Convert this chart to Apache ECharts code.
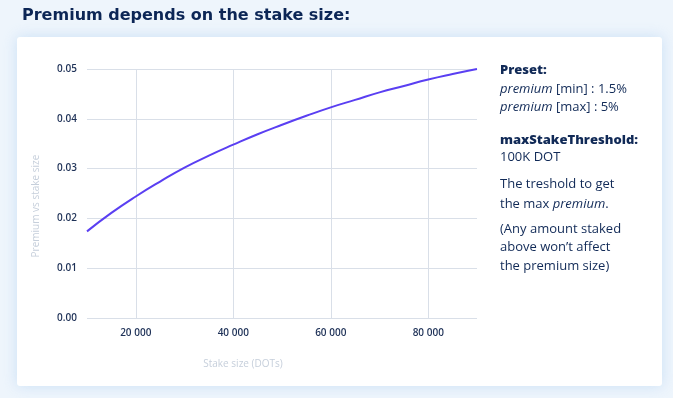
<!DOCTYPE html>
<html>
<head>
<meta charset="utf-8">
<script src="https://cdn.jsdelivr.net/npm/echarts@6/dist/echarts.min.js"></script>
<style>
  html, body { margin: 0; padding: 0; background: #eef5fc; }
  #chart { width: 673px; height: 398px; }
</style>
</head>
<body>
<div id="chart"></div>
<script>
// stake size (DOTs) and premium
var stakeSize = [10000, 15000, 20000, 25000, 30000, 35000, 40000, 45000, 50000,
  55000, 60000, 65000, 70000, 75000, 80000, 85000, 90000];
var premium = [0.0174, 0.0211, 0.0244, 0.0274, 0.0302, 0.0326, 0.0348, 0.0369, 0.0388,
  0.0406, 0.0423, 0.0438, 0.0453, 0.0466, 0.0479, 0.049, 0.05];
var xTicks = [20000, 40000, 60000, 80000];

var navy = "#112a57";
var font = "Open Sans";

var chartDom = document.getElementById("chart");
var myChart = echarts.init(chartDom);

function line(y, parts) {
  return {
    type: "text",
    left: 500,
    top: y,
    z: 10,
    style: {
      text: parts,
      fill: navy,
      font: "13px " + font,
      rich: {
        b: { fontWeight: 800, fontSize: 13, fontFamily: font, fill: navy },
        i: { fontStyle: "italic", fontSize: 13, fontFamily: font, fill: navy },
        n: { fontSize: 13, fontFamily: font, fill: navy },
      },
    },
  };
}

var option = {
  backgroundColor: "#eef5fc",
  title: {
    text: "Premium depends on the stake size:",
    left: 17,
    top: 3,
    textStyle: {
      color: "#0c2656",
      fontFamily: "DejaVu Sans",
      fontWeight: 900,
      fontSize: 16,
    },
  },
  graphic: [
    {
      type: "rect",
      z: -10,
      shape: { x: 17, y: 37, width: 645, height: 349, r: 3 },
      style: {
        fill: "#ffffff",
        shadowBlur: 14,
        shadowColor: "rgba(160,200,240,0.45)",
      },
    },
    line(64, "{b|Preset:}"),
    line(83, "{i|premium}{n| [min] : 1.5%}"),
    line(101, "{i|premium}{n| [max] : 5%}"),
    line(134, "{b|maxStakeThreshold:}"),
    line(151, "{n|100K DOT}"),
    line(178, "{n|The treshold to get}"),
    line(198, "{n|the max }{i|premium}{n|.}"),
    line(223, "{n|(Any amount staked}"),
    line(241, "{n|above won’t affect}"),
    line(260, "{n|the premium size)}"),
  ],
  grid: {
    left: 87,
    right: 196,
    top: 69,
    bottom: 80,
  },
  xAxis: {
    type: "value",
    min: 10000,
    max: 90000,
    name: "Stake size (DOTs)",
    nameLocation: "middle",
    nameGap: 41,
    nameTextStyle: {
      color: "#c6cfdb",
      fontFamily: font,
      fontSize: 10,
      padding: [0, 78, 0, 0],
    },
    axisLine: { show: false },
    axisTick: { show: false, customValues: xTicks },
    axisLabel: {
      customValues: xTicks,
      margin: 10,
      color: "#1e3157",
      fontFamily: font,
      fontWeight: 600,
      fontSize: 10,
      formatter: function (v) {
        return String(v).replace(/\B(?=(\d{3})+(?!\d))/g, " ");
      },
    },
    splitLine: { show: true, lineStyle: { color: "#d9dfe8", width: 1 } },
  },
  yAxis: {
    type: "value",
    min: 0,
    max: 0.05,
    interval: 0.01,
    name: "Premium vs stake size",
    nameLocation: "middle",
    nameGap: 46,
    nameTextStyle: {
      color: "#c6cfdb",
      fontFamily: font,
      fontSize: 10,
      padding: [0, 25, 0, 0],
    },
    axisLine: { show: false },
    axisTick: { show: false },
    axisLabel: {
      margin: 10,
      color: "#1e3157",
      fontFamily: font,
      fontWeight: 600,
      fontSize: 10,
      formatter: function (v) {
        return v.toFixed(2);
      },
    },
    splitLine: { show: true, lineStyle: { color: "#d9dfe8", width: 1 } },
  },
  series: [
    {
      type: "line",
      data: stakeSize.map(function (s, i) {
        return [s, premium[i]];
      }),
      smooth: true,
      showSymbol: false,
      lineStyle: { color: "#5a3ff2", width: 2 },
    },
  ],
};

myChart.setOption(option);
</script>
</body>
</html>
